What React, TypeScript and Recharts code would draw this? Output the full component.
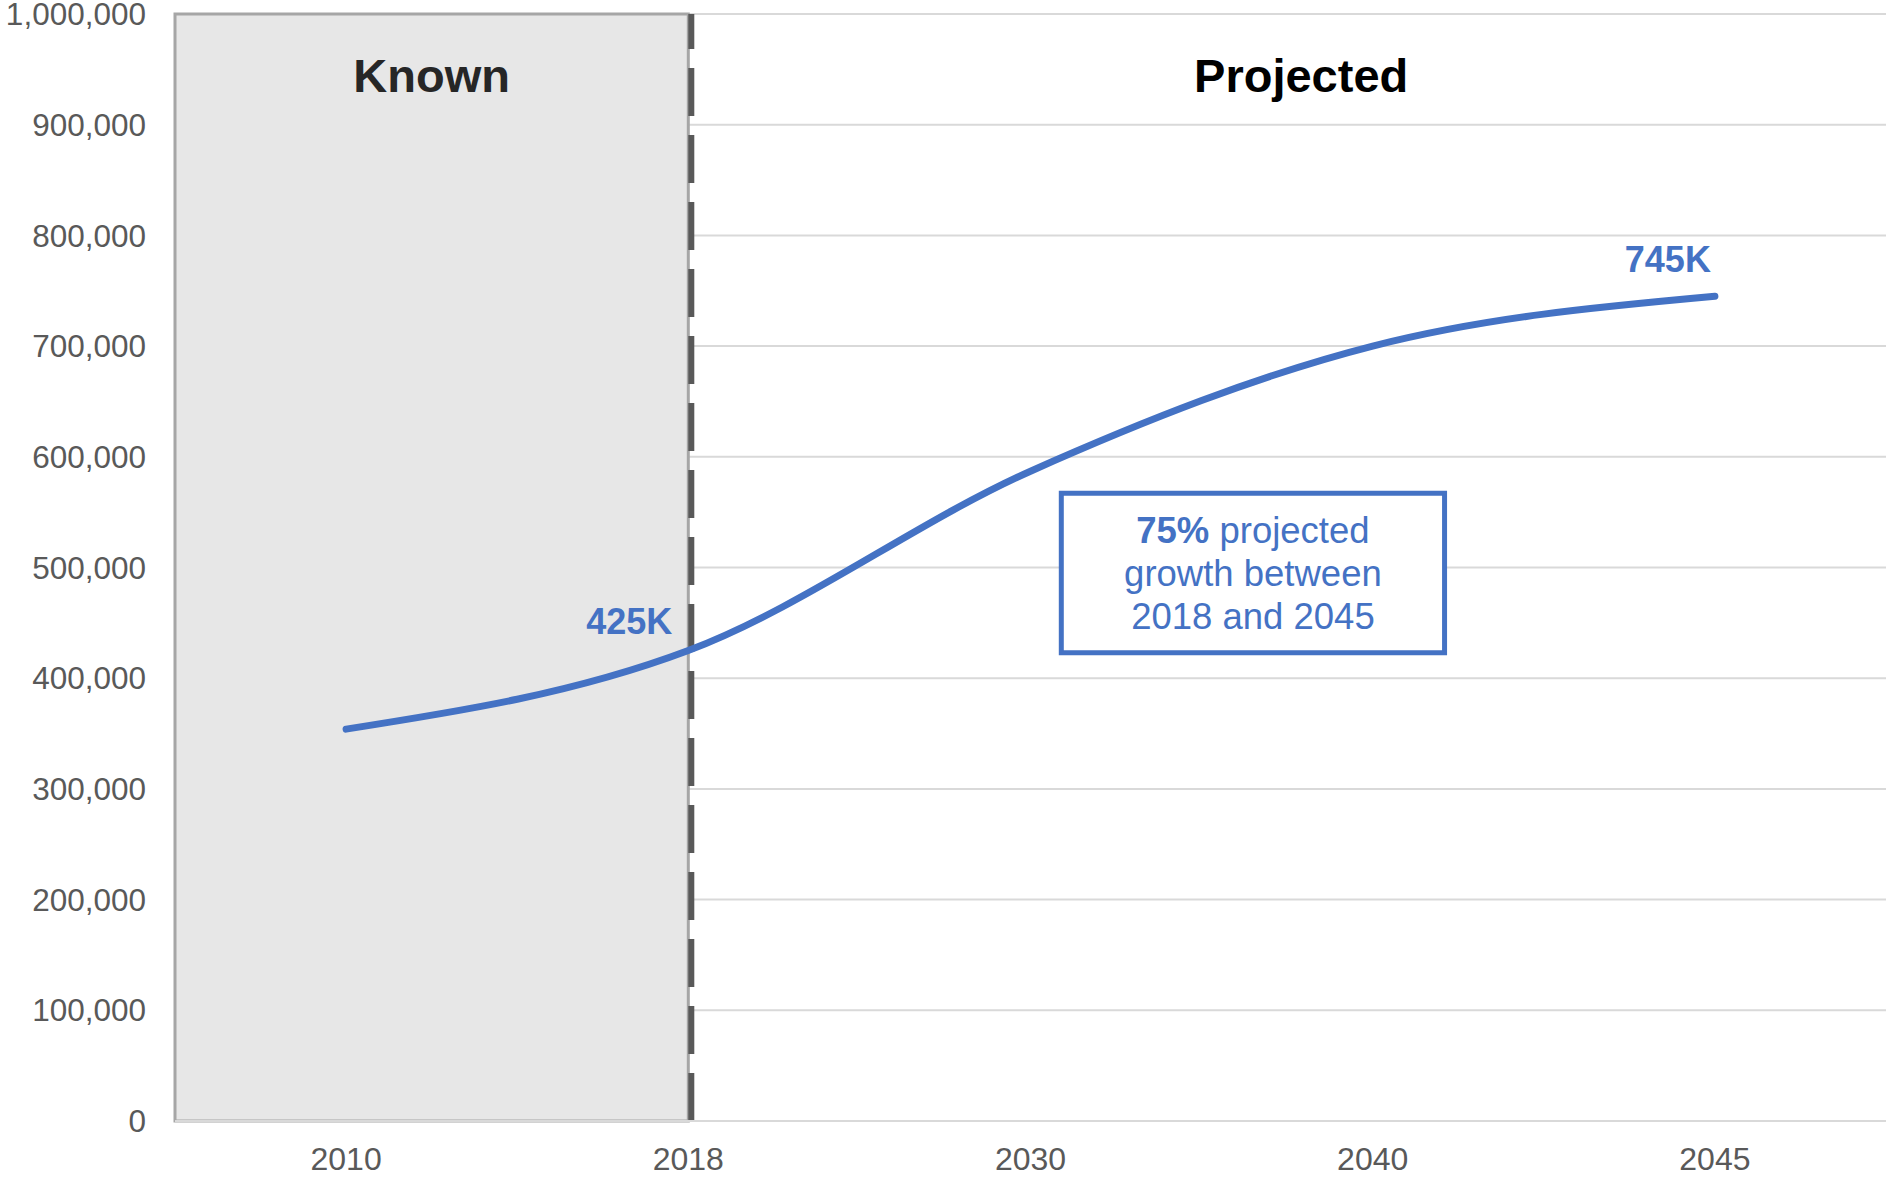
import {
  LineChart,
  Line,
  XAxis,
  YAxis,
  CartesianGrid,
  ReferenceArea,
  ReferenceLine,
  LabelList,
} from "recharts";

const YEARS = ["2010", "2018", "2030", "2040", "2045"];
const POPULATION = [354000, 425000, 587000, 700000, 745000];
const CALLOUTS = ["", "425K", "", "", "745K"];
const Y_TICKS = [0, 100000, 200000, 300000, 400000, 500000, 600000, 700000, 800000, 900000, 1000000];

const BLUE = "#4472C4";
const FONT = "'Liberation Sans', Arial, sans-serif";

const data = YEARS.map((year, i) => ({
  idx: i,
  year,
  value: POPULATION[i],
  tag: CALLOUTS[i],
}));

function YearTick(props: any) {
  const { x, y, payload } = props;
  return (
    <text x={x} y={y + 41} textAnchor="middle" fontFamily={FONT} fontSize={32} fill="#595959">
      {YEARS[payload.value]}
    </text>
  );
}

// offsets for the two value callouts (2018 and 2045)
const TAG_OFFSET: Record<number, [number, number]> = {
  1: [-16, -17],
  4: [-4, -24],
};

function CalloutLabel(props: any) {
  const { x, y, value, index } = props;
  if (!value) return null;
  const [dx, dy] = TAG_OFFSET[index] ?? [0, -20];
  return (
    <text
      x={x + dx}
      y={y + dy}
      textAnchor="end"
      fontFamily={FONT}
      fontWeight="bold"
      fontSize={36}
      fill={BLUE}
    >
      {value}
    </text>
  );
}

function Heading({ viewBox, text, color, dx = 0 }: any) {
  const { x, y, width } = viewBox;
  return (
    <text
      x={x + width / 2 + dx}
      y={y + 78}
      textAnchor="middle"
      fontFamily={FONT}
      fontWeight="bold"
      fontSize={47}
      fill={color}
    >
      {text}
    </text>
  );
}

function GrowthNote({ viewBox }: any) {
  const { x, y, width } = viewBox;
  const cx = x + width / 2;
  const common = {
    x: cx,
    textAnchor: "middle" as const,
    fontFamily: FONT,
    fontSize: 36.5,
    fill: BLUE,
  };
  return (
    <g>
      <text {...common} y={y + 50}>
        <tspan fontWeight="bold">75%</tspan> projected
      </text>
      <text {...common} y={y + 93}>
        growth between
      </text>
      <text {...common} y={y + 136}>
        2018 and 2045
      </text>
    </g>
  );
}

export default function App() {
  return (
    <div style={{ position: "absolute", left: 0, top: 0, background: "#fff" }}>
      <LineChart
        width={1886}
        height={1178}
        data={data}
        margin={{ top: 14, right: 0, bottom: 0, left: 0 }}
      >
        <CartesianGrid vertical={false} stroke="#D9D9D9" strokeWidth={2} />
        <XAxis
          type="number"
          dataKey="idx"
          domain={[-0.5, 4.5]}
          ticks={[0, 1, 2, 3, 4]}
          tick={<YearTick />}
          tickLine={false}
          axisLine={{ stroke: "#D9D9D9", strokeWidth: 2 }}
          height={57}
          interval={0}
        />
        <YAxis
          type="number"
          domain={[0, 1000000]}
          ticks={Y_TICKS}
          width={175}
          tickFormatter={(v: number) => v.toLocaleString("en-US")}
          tick={{ fontFamily: FONT, fontSize: 31.5, fill: "#595959" }}
          tickLine={false}
          axisLine={false}
          tickMargin={23}
          interval={0}
        />
        <ReferenceArea
          x1={-0.5}
          x2={1}
          y1={0}
          y2={1000000}
          fill="#E7E7E7"
          fillOpacity={1}
          stroke="#A6A6A6"
          strokeWidth={3}
          label={(p: any) => <Heading viewBox={p.viewBox} text="Known" color="#262626" />}
        />
        <ReferenceArea
          x1={1}
          x2={4.5}
          y1={0}
          y2={1000000}
          fill="none"
          stroke="none"
          label={(p: any) => <Heading viewBox={p.viewBox} text="Projected" color="#000000" dx={14} />}
        />
        <ReferenceArea
          x1={2.09}
          x2={3.21}
          y1={423000}
          y2={567000}
          fill="#FFFFFF"
          fillOpacity={1}
          stroke={BLUE}
          strokeWidth={5}
          label={(p: any) => <GrowthNote viewBox={p.viewBox} />}
        />
        <ReferenceLine
          x={1}
          shape={(p: any) => (
            <line
              x1={p.x1 + 3}
              x2={p.x2 + 3}
              y1={Math.max(p.y1, p.y2)}
              y2={Math.min(p.y1, p.y2)}
              stroke="#595959"
              strokeWidth={6}
              strokeDasharray="48 19"
            />
          )}
        />
        <Line
          type="monotone"
          dataKey="value"
          stroke={BLUE}
          strokeWidth={7}
          strokeLinecap="round"
          dot={false}
          activeDot={false}
          isAnimationActive={false}
        >
          <LabelList dataKey="tag" content={<CalloutLabel />} />
        </Line>
      </LineChart>
    </div>
  );
}
